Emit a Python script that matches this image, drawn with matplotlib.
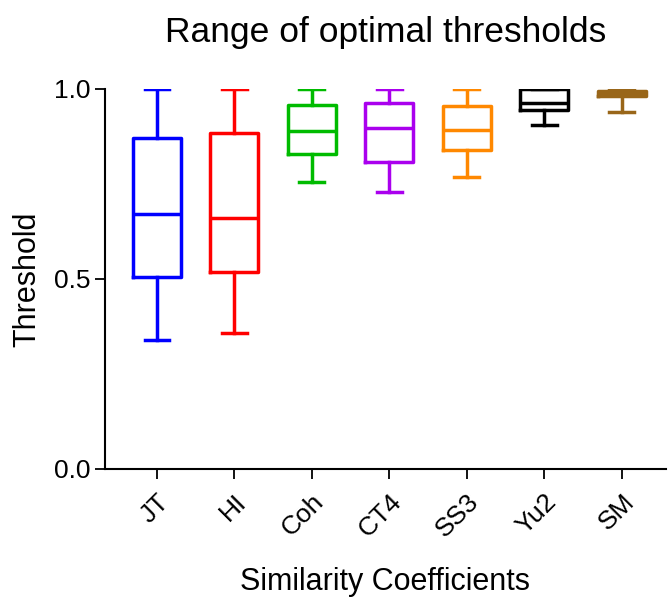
import matplotlib
matplotlib.use("Agg")
import matplotlib.pyplot as plt

plt.rcParams['font.family'] = ['Liberation Sans', 'DejaVu Sans']

names = ['JT', 'HI', 'Coh', 'CT4', 'SS3', 'Yu2', 'SM']
colors = ['#0000ff', '#ff0000', '#00bb00', '#aa00ee', '#ff8800', '#000000', '#996619']
wlo = [0.339, 0.358, 0.755, 0.729, 0.768, 0.905, 0.940]
q1 = [0.505, 0.518, 0.829, 0.808, 0.839, 0.945, 0.982]
med = [0.671, 0.661, 0.889, 0.897, 0.892, 0.963, 0.988]
q3 = [0.871, 0.884, 0.958, 0.963, 0.955, 1.000, 0.995]
whi = [1.0, 1.0, 1.0, 1.0, 1.0, 1.0, 1.0]

stats = []
for i in range(len(names)):
    stats.append(dict(label=names[i], whislo=wlo[i], q1=q1[i], med=med[i],
                      q3=q3[i], whishi=whi[i], fliers=[]))

fig = plt.figure(figsize=(6.68, 5.99), dpi=100)
ax = fig.add_axes([105/668, 1-469/599, (666-105)/668, (469-89)/599])

lw = 2.5
for i, s in enumerate(stats):
    c = colors[i]
    ax.bxp([s], positions=[i+1], widths=0.62, showfliers=False,
           boxprops=dict(color=c, linewidth=lw),
           medianprops=dict(color=c, linewidth=lw),
           whiskerprops=dict(color=c, linewidth=lw),
           capprops=dict(color=c, linewidth=lw),
           capwidths=0.32, manage_ticks=False)

ax.set_xlim(0.33, 7.57)
ax.set_ylim(0, 1.0)
ax.set_yticks([0.0, 0.5, 1.0])
ax.set_yticklabels(['0.0', '0.5', '1.0'])
ax.set_xticks(range(1, len(names)+1))
ax.set_xticklabels(names, rotation=45, ha='right', rotation_mode='anchor')
ax.tick_params(axis='both', labelsize=19, length=7, width=1.3, direction='out')
ax.tick_params(axis='x', pad=8)
for sp in ['top', 'right']:
    ax.spines[sp].set_visible(False)
for sp in ['left', 'bottom']:
    ax.spines[sp].set_linewidth(1.5)

ax.set_ylabel('Threshold', fontsize=22, labelpad=8)
ax.set_xlabel('Similarity Coefficients', fontsize=22, labelpad=18)
ax.set_title('Range of optimal thresholds', fontsize=25.5, pad=34)

fig.savefig('out.png', dpi=100)
